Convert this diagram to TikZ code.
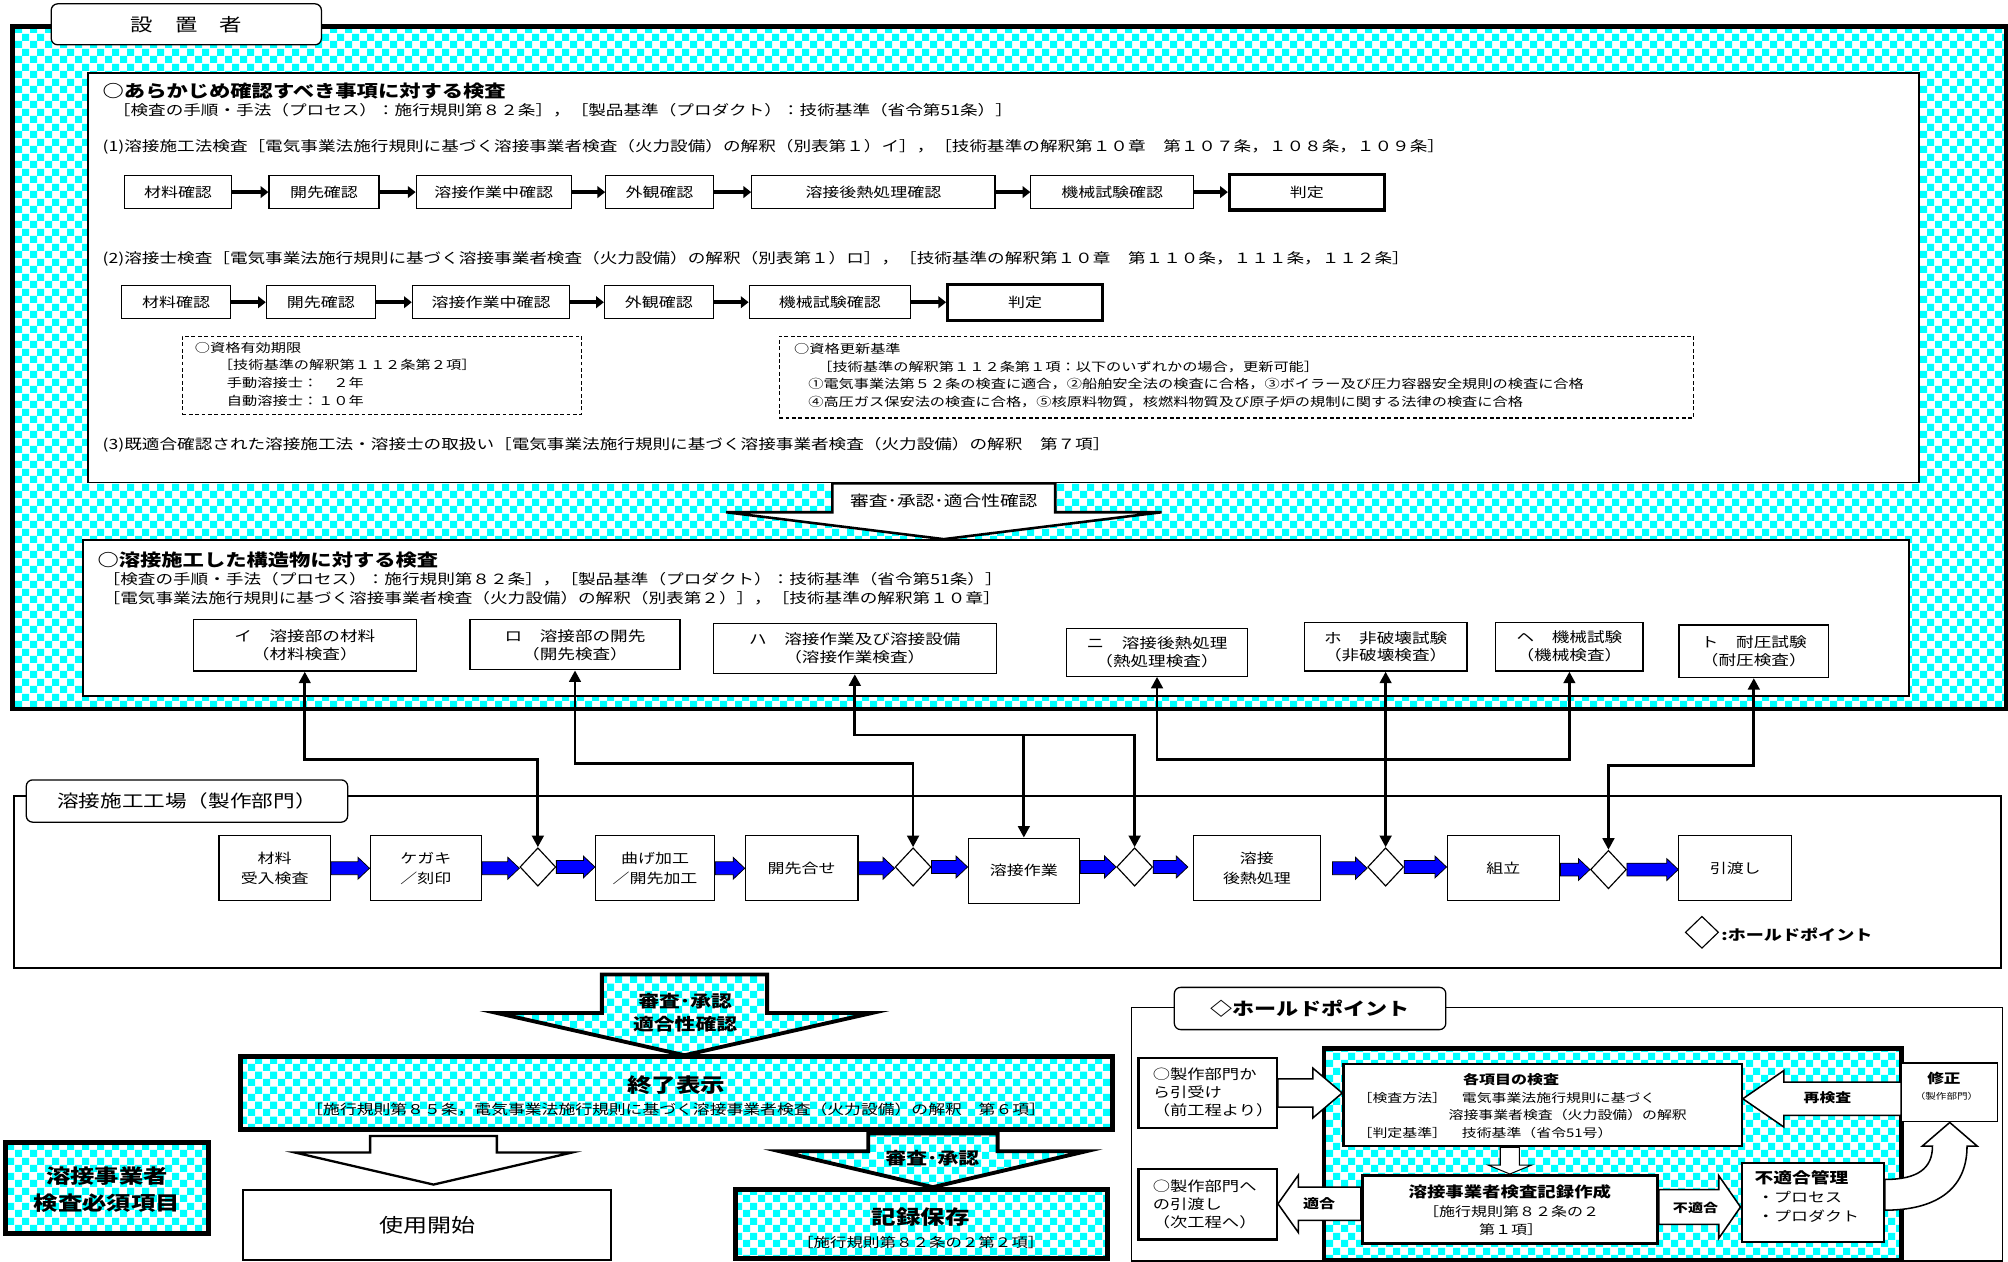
\documentclass[tikz,border=0pt]{standalone}
\usepackage{fontspec}
\setmainfont{Noto Sans CJK JP}[FakeStretch=1.25]
\usetikzlibrary{arrows.meta,positioning,calc,shapes.geometric,patterns}
\definecolor{hatch}{HTML}{00FFFF}
\definecolor{flow}{HTML}{0000FF}
\tikzset{
  % Frames and section boxes
  secbox/.style={draw,line width=1.5pt,fill=white,inner sep=0pt,anchor=north west},
  dotbox/.style={draw,line width=3.5pt,pattern=checkerboard,pattern color=hatch,inner sep=0pt,anchor=north west},
  tabbox/.style={draw,line width=1pt,fill=white,rounded corners=5pt,inner sep=0pt},
  notebox/.style={draw,line width=0.8pt,dash pattern=on 3pt off 2pt,anchor=north west,inner sep=0pt},
  % Text lines
  ln/.style={anchor=west,inner sep=0pt,font=\fontsize{11}{13}\selectfont},
  hd/.style={anchor=west,inner sep=0pt,font=\fontsize{13.3}{15}\selectfont\bfseries},
  ntxt/.style={anchor=north west,inner sep=0pt,align=left,font=\fontsize{9.5}{13.7}\selectfont},
  % Check rows
  rowbox/.style={draw,fill=white,line width=0.9pt,minimum height=26pt,inner sep=0pt,font=\fontsize{10.6}{12}\selectfont},
  judge/.style={rowbox,line width=2.4pt,minimum height=28pt},
  sarr/.style={-{Triangle[length=6pt,width=9pt]},line width=3pt},
  % Inspection items and shop processes
  insp/.style={draw,fill=white,line width=1pt,align=center,inner sep=0pt,font=\fontsize{11}{14}\selectfont},
  proc/.style={draw,fill=white,line width=0.9pt,minimum width=88pt,minimum height=51pt,align=center,inner sep=0pt,font=\fontsize{10.6}{16}\selectfont},
  hold/.style={diamond,draw,fill=white,line width=0.9pt,minimum width=28pt,minimum height=30pt,inner sep=0pt},
  conn/.style={line width=2.2pt,{Triangle[length=9pt,width=9pt]}-{Triangle[length=9pt,width=9pt]}},
  conn1/.style={line width=2.2pt,-{Triangle[length=9pt,width=9pt]}},
  % Block arrows: half shaft, half head, head length
  rblk/.style n args={3}{to path={let \p1=(\tikztostart),\p2=(\tikztotarget) in
    (\x1,\y1+#1) -- (\x2-#3,\y1+#1) -- (\x2-#3,\y1+#2) -- (\x2,\y1)
    -- (\x2-#3,\y1-#2) -- (\x2-#3,\y1-#1) -- (\x1,\y1-#1) -- cycle}},
  lblk/.style n args={3}{to path={let \p1=(\tikztostart),\p2=(\tikztotarget) in
    (\x1,\y1+#1) -- (\x2+#3,\y1+#1) -- (\x2+#3,\y1+#2) -- (\x2,\y1)
    -- (\x2+#3,\y1-#2) -- (\x2+#3,\y1-#1) -- (\x1,\y1-#1) -- cycle}},
  dblk/.style n args={3}{to path={let \p1=(\tikztostart),\p2=(\tikztotarget) in
    (\x1+#1,\y1) -- (\x1+#1,\y2+#3) -- (\x1+#2,\y2+#3) -- (\x1,\y2)
    -- (\x1-#2,\y2+#3) -- (\x1-#1,\y2+#3) -- (\x1-#1,\y1) -- cycle}},
  blu/.style={rblk={5pt}{8.5pt}{9pt},draw=black,fill=flow,line width=0.6pt},
  wht/.style={draw,fill=white,line width=1.2pt},
  dots/.style={draw,line width=3pt,pattern=checkerboard,pattern color=hatch},
  % Bottom labels
  bl/.style={inner sep=0pt,font=\fontsize{13}{18}\selectfont\bfseries,align=center},
  big/.style={inner sep=0pt,font=\fontsize{15.3}{18}\selectfont\bfseries},
  sm/.style={inner sep=0pt,font=\fontsize{10.5}{12}\selectfont},
  hs/.style={inner sep=0pt,font=\fontsize{9.3}{11}\selectfont,anchor=west}
}
\begin{document}
\begin{tikzpicture}[x=1pt,y=-1pt]
  \fill[white] (0,0) rectangle (1568,985);
  \path[use as bounding box] (0,0) rectangle (1568,985);

  % Owner frame
  \node[dotbox,minimum width=1557pt,minimum height=533pt] (owner) at (8,19) {};
  \node[tabbox,minimum width=211pt,minimum height=32pt,font=\fontsize{14}{16}\selectfont] (ownertab) at (145.5,19) {設　置　者};

  % Advance checks
  \node[secbox,minimum width=1430pt,minimum height=320pt] (pre) at (68,56) {};
  \node[hd] (t1) at (80,71) {○あらかじめ確認すべき事項に対する検査};
  \node[ln] (t1a) at (88,86) {［検査の手順・手法（プロセス）：施行規則第８２条］，［製品基準（プロダクト）：技術基準（省令第51条）］};
  \node[ln] (t11) at (80,115) {(1)溶接施工法検査［電気事業法施行規則に基づく溶接事業者検査（火力設備）の解釈（別表第１）イ］，［技術基準の解釈第１０章　第１０７条，１０８条，１０９条］};

  \node[rowbox,minimum width=84pt] (a1) at (139,150) {材料確認};
  \node[rowbox,minimum width=86pt] (a2) at (253,150) {開先確認};
  \node[rowbox,minimum width=121pt] (a3) at (385.5,150) {溶接作業中確認};
  \node[rowbox,minimum width=84pt] (a4) at (515,150) {外観確認};
  \node[rowbox,minimum width=190pt] (a5) at (682,150) {溶接後熱処理確認};
  \node[rowbox,minimum width=127pt] (a6) at (868.5,150) {機械試験確認};
  \node[judge,minimum width=121pt] (a7) at (1020.5,150) {判定};
  \draw[sarr] (a1.east) -- (a2.west);
  \draw[sarr] (a2.east) -- (a3.west);
  \draw[sarr] (a3.east) -- (a4.west);
  \draw[sarr] (a4.east) -- (a5.west);
  \draw[sarr] (a5.east) -- (a6.west);
  \draw[sarr] (a6.east) -- (a7.west);

  \node[ln] (t12) at (80,202) {(2)溶接士検査［電気事業法施行規則に基づく溶接事業者検査（火力設備）の解釈（別表第１）ロ］，［技術基準の解釈第１０章　第１１０条，１１１条，１１２条］};
  \node[rowbox,minimum width=85pt] (b1) at (137.5,236) {材料確認};
  \node[rowbox,minimum width=85pt] (b2) at (250.5,236) {開先確認};
  \node[rowbox,minimum width=123pt] (b3) at (383.5,236) {溶接作業中確認};
  \node[rowbox,minimum width=85pt] (b4) at (514.5,236) {外観確認};
  \node[rowbox,minimum width=126pt] (b5) at (648,236) {機械試験確認};
  \node[judge,minimum width=121pt] (b6) at (800.5,236) {判定};
  \draw[sarr] (b1.east) -- (b2.west);
  \draw[sarr] (b2.east) -- (b3.west);
  \draw[sarr] (b3.east) -- (b4.west);
  \draw[sarr] (b4.east) -- (b5.west);
  \draw[sarr] (b5.east) -- (b6.west);

  % Qualification notes
  \node[notebox,minimum width=312pt,minimum height=61pt] (valid) at (142,262) {};
  \node[ntxt] (validtx) at (152,267) {○資格有効期限\\\hspace*{18pt}［技術基準の解釈第１１２条第２項］\\\hspace*{25pt}手動溶接士：　２年\\\hspace*{25pt}自動溶接士：１０年};
  \node[notebox,minimum width=714pt,minimum height=64pt] (renew) at (608,262) {};
  \node[ntxt] (renewtx) at (620,268) {○資格更新基準\\\hspace*{18pt}［技術基準の解釈第１１２条第１項：以下のいずれかの場合，更新可能］\\\hspace*{11pt}①電気事業法第５２条の検査に適合，②船舶安全法の検査に合格，③ボイラー及び圧力容器安全規則の検査に合格\\\hspace*{11pt}④高圧ガス保安法の検査に合格，⑤核原料物質，核燃料物質及び原子炉の規制に関する法律の検査に合格};
  \node[ln] (t13) at (80,347) {(3)既適合確認された溶接施工法・溶接士の取扱い［電気事業法施行規則に基づく溶接事業者検査（火力設備）の解釈　第７項］};

  % Checks on the welded structure
  \node[secbox,minimum width=1426pt,minimum height=122pt] (post) at (64,421) {};
  \draw[wht,line width=2pt,dblk={87pt}{170pt}{21pt}] (pre.south -| 737,0) to (post.north -| 737,0);
  \node[inner sep=0pt,font=\fontsize{11.7}{13}\selectfont] (rv1) at (737,391) {審査･承認･適合性確認};
  \node[hd] (t2) at (76,437) {○溶接施工した構造物に対する検査};
  \node[ln] (t2a) at (80,452) {［検査の手順・手法（プロセス）：施行規則第８２条］，［製品基準（プロダクト）：技術基準（省令第51条）］};
  \node[ln] (t2b) at (80,467) {［電気事業法施行規則に基づく溶接事業者検査（火力設備）の解釈（別表第２）］，［技術基準の解釈第１０章］};

  \node[insp,minimum width=174pt,minimum height=40pt] (i1) at (238,504) {イ　溶接部の材料\\（材料検査）};
  \node[insp,minimum width=164pt,minimum height=39pt] (i2) at (449,503.5) {ロ　溶接部の開先\\（開先検査）};
  \node[insp,minimum width=221pt,minimum height=39pt] (i3) at (667.5,506.5) {ハ　溶接作業及び溶接設備\\（溶接作業検査）};
  \node[insp,minimum width=141pt,minimum height=37pt] (i4) at (903.5,509.5) {ニ　溶接後熱処理\\（熱処理検査）};
  \node[insp,minimum width=127pt,minimum height=38pt] (i5) at (1082,505) {ホ　非破壊試験\\（非破壊検査）};
  \node[insp,minimum width=115pt,minimum height=38pt] (i6) at (1225.5,505) {ヘ　機械試験\\（機械検査）};
  \node[insp,minimum width=117pt,minimum height=41pt] (i7) at (1369.5,508.5) {ト　耐圧試験\\（耐圧検査）};

  % Welding shop
  \node[secbox,line width=1.5pt,minimum width=1552pt,minimum height=134pt] (fac) at (10,621) {};
  \node[tabbox,minimum width=251pt,minimum height=33pt,font=\fontsize{13.5}{15}\selectfont] (factab) at (146,625.5) {溶接施工工場（製作部門）};

  \node[proc,minimum width=87pt] (p1) at (214.5,678) {材料\\受入検査};
  \node[proc,minimum width=87pt] (p2) at (332.5,678) {ケガキ\\／刻印};
  \node[hold] (d1) at (420,677) {};
  \node[proc,minimum width=93pt] (p3) at (511.5,678) {曲げ加工\\／開先加工};
  \node[proc] (p4) at (626,678) {開先合せ};
  \node[hold] (d2) at (713,677) {};
  \node[proc,minimum width=87pt] (p5) at (799.5,680) {溶接作業};
  \node[hold] (d3) at (886,677) {};
  \node[proc,minimum width=99pt] (p6) at (981.5,678) {溶接\\後熱処理};
  \node[hold] (d4) at (1082,677) {};
  \node[proc] (p7) at (1174,678) {組立};
  \node[hold] (d5) at (1256,679) {};
  \node[proc] (p8) at (1355,678) {引渡し};

  \draw[blu] (p1.east) to (p2.west);
  \draw[blu] (p2.east) to (d1.west);
  \draw[blu] (d1.east) to (p3.west);
  \draw[blu] (p3.east) to (p4.west);
  \draw[blu] (p4.east) to (d2.west);
  \draw[blu] (d2.east) to (p5.west);
  \draw[blu] (p5.east |- d3.west) to (d3.west);
  \draw[blu] (d3.east) to ([xshift=-4pt]p6.west);
  \draw[blu] ([xshift=9pt]p6.east) to (d4.west);
  \draw[blu] (d4.east) to (p7.west);
  \draw[blu] (p7.east |- d5.west) to (d5.west);
  \draw[blu] (d5.east) to (p8.west);

  \node[hold,minimum width=26pt,minimum height=25pt] (leg) at (1329,728) {};
  \node[anchor=west,inner sep=0pt,font=\fontsize{11.3}{13}\selectfont\bfseries] (legtx) at (1344,730) {:ホールドポイント};

  % Inspection links
  \coordinate (bi) at (0,593);
  \coordinate (bro) at (0,596);
  \coordinate (bha) at (0,574);
  \coordinate (bni) at (0,593);
  \coordinate (bto) at (0,598);
  \draw[conn] (i1.south) -- (i1.south |- bi) -| (d1.north);
  \draw[conn] (i2.south) -- (i2.south |- bro) -| (d2.north);
  \draw[conn] (i3.south) -- (i3.south |- bha) -| (d3.north);
  \draw[conn1] (p5.north |- bha) -- (p5.north);
  \draw[conn] (i4.south) -- (i4.south |- bni) -| (i6.south);
  \draw[conn] (i5.south) -- (d4.north);
  \draw[conn] (i7.south) -- (i7.south |- bto) -| (d5.north);

  % Completion
  \draw[dots,dblk={64.5pt}{146.5pt}{33pt}] (534.5,761) to (534.5,824);
  \node[bl] (rv2) at (535,791) {審査･承認\\適合性確認};
  \node[draw,line width=4pt,pattern=checkerboard,pattern color=hatch,minimum width=681pt,minimum height=57pt,inner sep=0pt] (fin) at (528.5,853.5) {};
  \node[big] (fintl) at (528,847) {終了表示};
  \node[sm] (finsub) at (528,866) {［施行規則第８５条，電気事業法施行規則に基づく溶接事業者検査（火力設備）の解釈　第６項］};

  \draw[wht,line width=1.8pt,dblk={49.5pt}{108pt}{25pt}] (338.5,887) to (338.5,925);
  \node[draw,line width=1.3pt,fill=white,minimum width=287pt,minimum height=55pt,inner sep=0pt,font=\fontsize{15}{18}\selectfont] (use) at (333.5,956.5) {使用開始};

  \draw[dots,dblk={50.5pt}{119.5pt}{28pt}] (728.5,885) to (728.5,927);
  \node[bl] (rv3) at (728,904) {審査･承認};
  \node[draw,line width=4pt,pattern=checkerboard,pattern color=hatch,minimum width=291pt,minimum height=54pt,inner sep=0pt] (rec) at (719.5,956) {};
  \node[big] (rectl) at (719,950) {記録保存};
  \node[sm,font=\fontsize{10.3}{12}\selectfont] (recsub) at (719,970) {［施行規則第８２条の２第２項］};

  \node[draw,line width=4pt,pattern=checkerboard,pattern color=hatch,minimum width=159pt,minimum height=71pt,inner sep=0pt] (must) at (83.5,927.5) {};
  \node[big,align=center,font=\fontsize{15.2}{21}\selectfont\bfseries] (musttx) at (83.5,929) {溶接事業者\\検査必須項目};

  % Hold point detail
  \node[secbox,line width=1.3pt,fill=none,minimum width=680pt,minimum height=198pt] (hpf) at (883,786) {};
  \node[tabbox,minimum width=212pt,minimum height=33pt,font=\fontsize{13.8}{16}\selectfont\bfseries] (hptab) at (1023,787.5) {◇ホールドポイント};
  \node[dotbox,minimum width=451pt,minimum height=165pt] (hpin) at (1032,817) {};
  \node[draw,fill=white,line width=1.8pt,minimum width=311pt,minimum height=64pt,inner sep=0pt] (chk) at (1204.5,863) {};
  \node[draw,fill=white,line width=2.5pt,minimum width=230pt,minimum height=53pt,inner sep=0pt] (rcd) at (1179,944.5) {};
  \node[draw,fill=white,line width=1.8pt,minimum width=111pt,minimum height=62pt,inner sep=0pt] (ng) at (1415.5,939) {};
  \node[draw,fill=white,line width=1pt,minimum width=75pt,minimum height=46pt,inner sep=0pt] (fix) at (1522.5,853) {};
  \node[draw,fill=white,line width=1.8pt,minimum width=108pt,minimum height=55pt,inner sep=0pt] (recv) at (943,853.5) {};
  \node[draw,fill=white,line width=1.8pt,minimum width=108pt,minimum height=55pt,inner sep=0pt] (hand) at (943,940.5) {};

  \draw[wht,rblk={11pt}{19.5pt}{23pt}] (recv.east) to (chk.west);
  \draw[wht,line width=0.8pt,dblk={7.5pt}{17pt}{7pt}] (chk.south -| rcd.north) to (rcd.north);
  \draw[wht,rblk={13.5pt}{24.5pt}{17pt}] ([yshift=2pt]rcd.east) to (ng.west);
  \draw[wht,lblk={13pt}{22.5pt}{16pt}] ([yshift=4.5pt]rcd.west) to (hand.east);
  \draw[wht,lblk={13pt}{22pt}{32pt}] ([yshift=-5pt]fix.west) to (chk.east);
  \draw[wht] (ng.east |- 0,921) .. controls (1498,921) and (1509,912) .. (1509,895)
    -- (1501,895) -- (fix.south) -- (1544,895) -- (1536,895)
    .. controls (1536,930) and (1510,945) .. (ng.east |- 0,945) -- cycle;

  \node[inner sep=0pt,font=\fontsize{10}{12}\selectfont\bfseries] (chktl) at (1180,843) {各項目の検査};
  \node[hs] (chk1) at (1060,857) {［検査方法］　電気事業法施行規則に基づく};
  \node[hs] (chk2) at (1131,871) {溶接事業者検査（火力設備）の解釈};
  \node[hs] (chk3) at (1060,885) {［判定基準］　技術基準（省令51号）};
  \node[inner sep=0pt,font=\fontsize{11.5}{13}\selectfont\bfseries] (rcdtl) at (1179,931) {溶接事業者検査記録作成};
  \node[inner sep=0pt,font=\fontsize{10}{12}\selectfont] (rcd1) at (1180,946) {［施行規則第８２条の２};
  \node[inner sep=0pt,font=\fontsize{10}{12}\selectfont] (rcd2) at (1180,960) {第１項］};
  \node[anchor=west,inner sep=0pt,font=\fontsize{11.7}{13}\selectfont\bfseries] (ngtl) at (1370,920) {不適合管理};
  \node[anchor=west,inner sep=0pt,font=\fontsize{10.6}{12}\selectfont] (ng1) at (1372,935) {・プロセス};
  \node[anchor=west,inner sep=0pt,font=\fontsize{10.6}{12}\selectfont] (ng2) at (1372,950) {・プロダクト};
  \node[inner sep=0pt,font=\fontsize{10.4}{12}\selectfont\bfseries] (fixtl) at (1518,842) {修正};
  \node[inner sep=0pt,font=\fontsize{6.6}{8}\selectfont] (fix1) at (1520,856) {（製作部門）};
  \node[ntxt,font=\fontsize{10.8}{14}\selectfont] (recvtx) at (900,834) {○製作部門か\\ら引受け\\（前工程より）};
  \node[ntxt,font=\fontsize{10.8}{14}\selectfont] (handtx) at (900,921) {○製作部門へ\\の引渡し\\（次工程へ）};
  \node[inner sep=0pt,font=\fontsize{9.9}{12}\selectfont\bfseries] (retx) at (1427,857) {再検査};
  \node[inner sep=0pt,font=\fontsize{9.4}{12}\selectfont\bfseries] (ngtx) at (1324,943) {不適合};
  \node[inner sep=0pt,font=\fontsize{10}{12}\selectfont\bfseries] (oktx) at (1030,940) {適合};
\end{tikzpicture}
\end{document}
